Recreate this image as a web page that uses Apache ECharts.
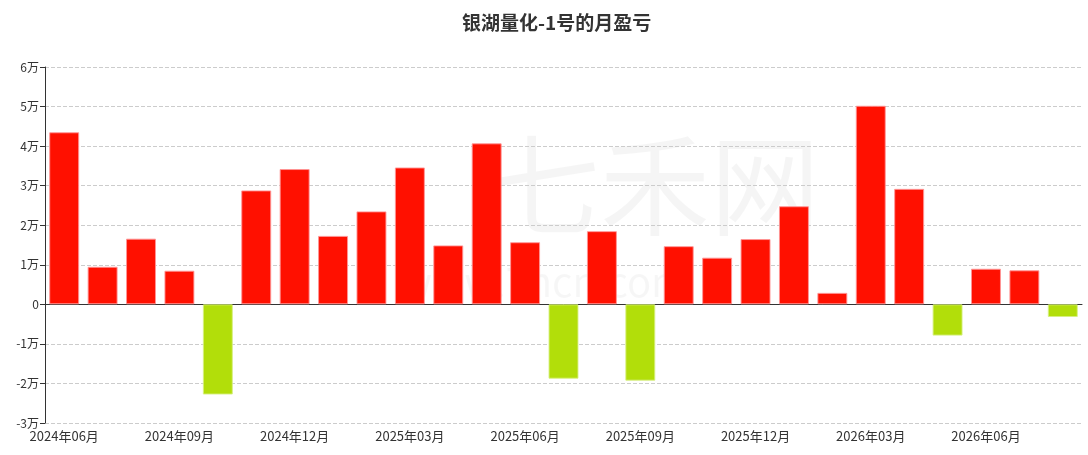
<!DOCTYPE html>
<html>
<head>
<meta charset="utf-8">
<script src="https://cdn.jsdelivr.net/npm/echarts@6/dist/echarts.min.js"></script>
<style>
html,body{margin:0;padding:0;background:#fff;}
#c{width:1088px;height:455px;}
</style>
</head>
<body>
<div id="c"></div>
<script>
const months = ['2024年06月','2024年07月','2024年08月','2024年09月','2024年10月','2024年11月','2024年12月',
'2025年01月','2025年02月','2025年03月','2025年04月','2025年05月','2025年06月','2025年07月','2025年08月',
'2025年09月','2025年10月','2025年11月','2025年12月','2026年01月','2026年02月','2026年03月','2026年04月',
'2026年05月','2026年06月','2026年07月','2026年08月'];
const pnl = [43500, 9500, 16600, 8500, -22800, 28800, 34200, 17300, 23500, 34600, 14900, 40700, 15700,
-18800, 18500, -19300, 14700, 11800, 16500, 24800, 2900, 50200, 29200, -7900, 9000, 8600, -3200];
const yTicks = {min: -30000, max: 60000, interval: 10000};
const titleText = '银湖量化-1号的月盈亏';

const chart = echarts.init(document.getElementById('c'));
const font = '"Noto Sans CJK SC", "Noto Sans", sans-serif';
const barData = pnl.map(v => ({
  value: v,
  itemStyle: v >= 0
    ? {color: '#ff1000', borderColor: 'rgba(255,150,150,0.9)', borderWidth: 1}
    : {color: '#b2de0a', borderColor: 'rgba(215,240,130,0.9)', borderWidth: 1}
}));
chart.setOption({
  animation: false,
  textStyle: {fontFamily: font},
  title: {text: titleText, left: 457, top: 8,
    textStyle: {fontSize: 19, fontWeight: 'bold', color: '#333', fontFamily: font}},
  graphic: [
    {type: 'text', left: 490, top: 130, z: -1, silent: true,
     style: {text: '七禾网', fontSize: 110, fill: 'rgba(0,0,0,0.04)', fontFamily: font}},
    {type: 'text', left: 400, top: 262, z: -1, silent: true,
     style: {text: 'www.7hcn.com', fontSize: 40, fill: 'rgba(0,0,0,0.035)', fontFamily: font}}
  ],
  grid: {left: 45, right: 6, top: 67, bottom: 32},
  xAxis: [
    {type: 'category', data: months, boundaryGap: true,
     axisLine: {onZero: true, lineStyle: {color: '#333'}},
     axisTick: {alignWithLabel: true, interval: 2, length: 5, lineStyle: {color: '#333'}},
     axisLabel: {show: false}},
    {type: 'category', data: months, boundaryGap: true, position: 'bottom',
     axisLine: {show: false, onZero: false}, axisTick: {show: false},
     axisLabel: {interval: 2, color: '#333', fontSize: 13, margin: 7, fontFamily: font}}
  ],
  yAxis: {type: 'value', min: yTicks.min, max: yTicks.max, interval: yTicks.interval,
    axisLine: {show: true, lineStyle: {color: '#333'}},
    axisTick: {show: true, length: 5, lineStyle: {color: '#333'}},
    axisLabel: {color: '#333', fontSize: 12, margin: 6, fontFamily: font,
      formatter: v => v === 0 ? '0' : (v / 10000) + '万'},
    splitLine: {lineStyle: {type: 'dashed', color: '#ccc'}}},
  series: [{
    type: 'bar', xAxisIndex: 0, data: barData, barWidth: '78%'
  }]
});
</script>
</body>
</html>
